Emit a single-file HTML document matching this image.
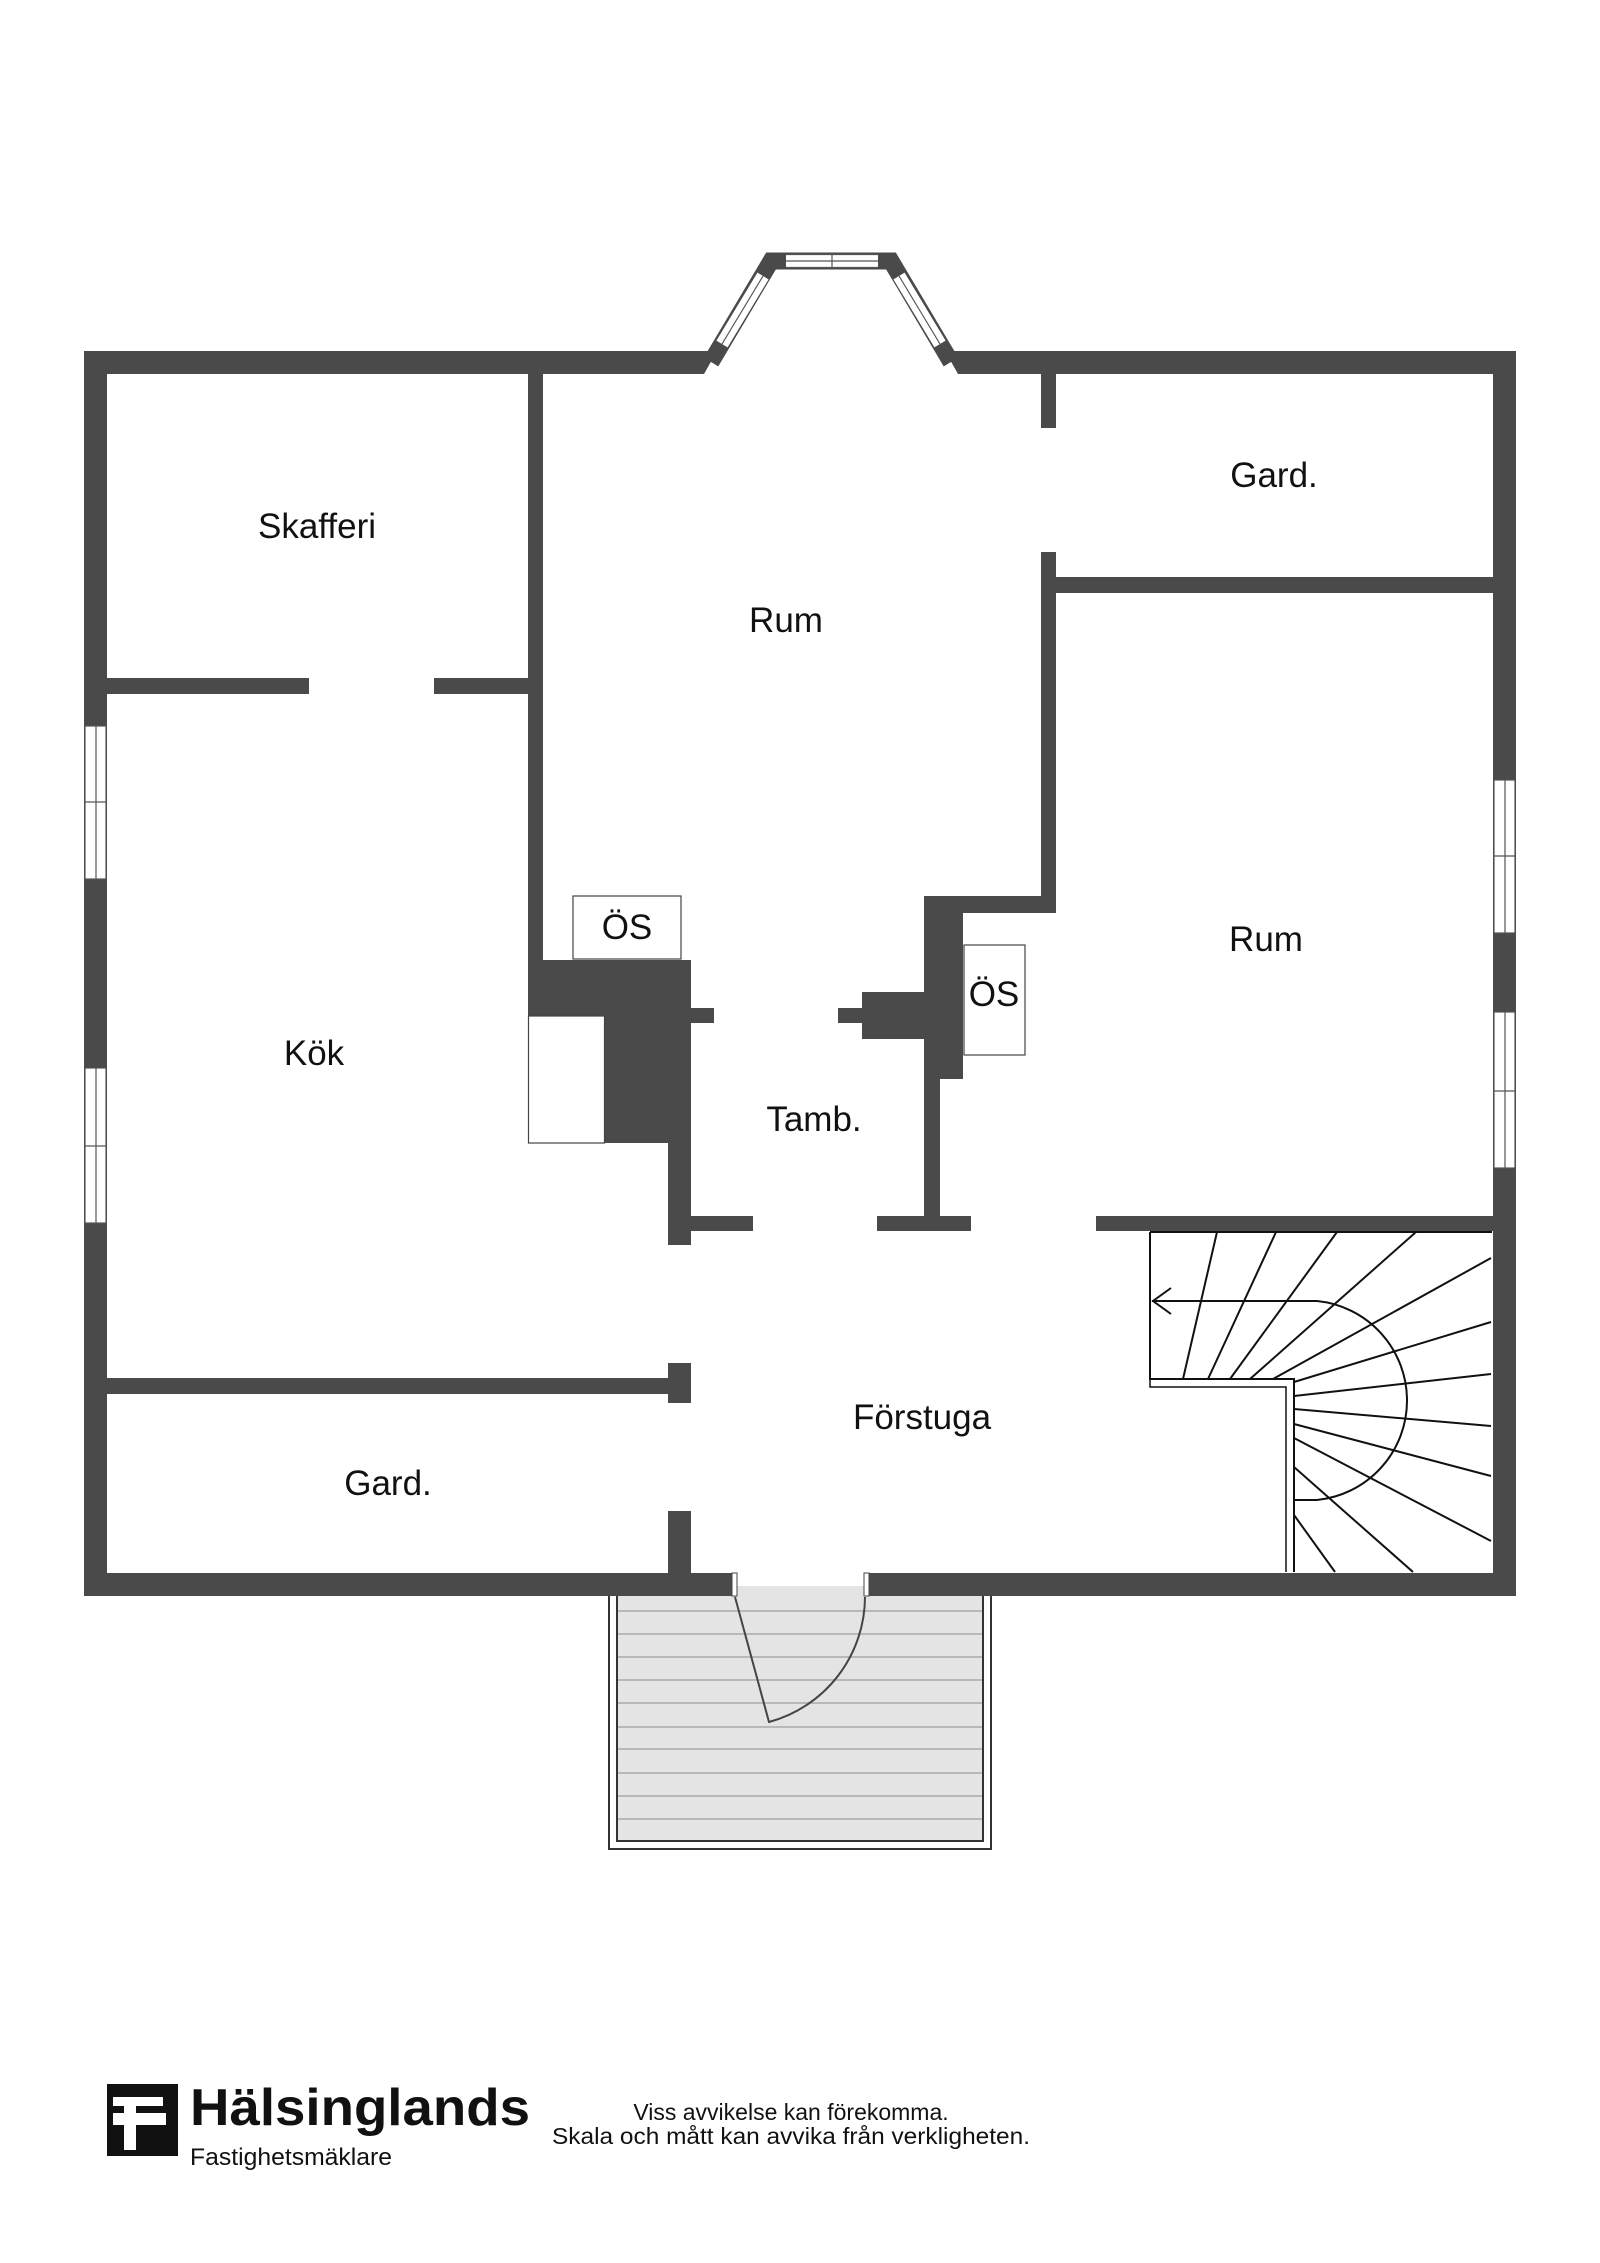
<!DOCTYPE html>
<html><head><meta charset="utf-8"><style>
html,body{margin:0;padding:0;background:#fff}
svg{display:block}
text{font-family:"Liberation Sans",sans-serif;fill:#111}
</style></head><body>
<svg width="1600" height="2263" viewBox="0 0 1600 2263" xmlns="http://www.w3.org/2000/svg">
<rect width="1600" height="2263" fill="#fff"/>
<!-- porch -->
<rect x="609" y="1590" width="382" height="259" fill="#fff" stroke="#333" stroke-width="2"/>
<rect x="617" y="1590" width="366" height="251" fill="#e4e4e4" stroke="#333" stroke-width="2"/>
<rect x="737" y="1586" width="127" height="12" fill="#e4e4e4"/>
<g stroke="#aaa" stroke-width="1.5">
<line x1="618" y1="1611" x2="982" y2="1611"/><line x1="618" y1="1634" x2="982" y2="1634"/>
<line x1="618" y1="1657" x2="982" y2="1657"/><line x1="618" y1="1680" x2="982" y2="1680"/>
<line x1="618" y1="1703" x2="982" y2="1703"/><line x1="618" y1="1727" x2="982" y2="1727"/>
<line x1="618" y1="1749" x2="982" y2="1749"/><line x1="618" y1="1773" x2="982" y2="1773"/>
<line x1="618" y1="1796" x2="982" y2="1796"/><line x1="618" y1="1819" x2="982" y2="1819"/>
</g>
<path d="M735 1597 L769 1722 A130 130 0 0 0 865 1597" fill="none" stroke="#444" stroke-width="2"/>
<g fill="#4a4a4a">
<polygon points="84,351 717,351 704,374 84,374"/>
<polygon points="945,351 1516,351 1516,374 958,374"/>
<rect x="84" y="351" width="23" height="1245"/>
<rect x="1493" y="351" width="23" height="1245"/>
<rect x="84" y="1573" width="648" height="23"/>
<rect x="869" y="1573" width="647" height="23"/>
<rect x="528" y="374" width="15" height="586"/>
<rect x="107" y="678" width="202" height="16"/>
<rect x="434" y="678" width="94" height="16"/>
<rect x="528" y="960" width="163" height="56"/>
<rect x="605" y="1016" width="86" height="127"/>
<rect x="668" y="1143" width="23" height="102"/>
<rect x="691" y="1008" width="23" height="15"/>
<rect x="691" y="1216" width="62" height="15"/>
<rect x="838" y="1008" width="24" height="15"/>
<rect x="862" y="992" width="62" height="47"/>
<rect x="924" y="896" width="39" height="183"/>
<rect x="924" y="1079" width="16" height="152"/>
<rect x="877" y="1216" width="94" height="15"/>
<rect x="924" y="896" width="132" height="17"/>
<rect x="1041" y="552" width="15" height="361"/>
<rect x="1041" y="374" width="15" height="54"/>
<rect x="1056" y="577" width="437" height="16"/>
<rect x="1096" y="1216" width="397" height="15"/>
<rect x="107" y="1378" width="561" height="16"/>
<rect x="668" y="1363" width="23" height="40"/>
<rect x="668" y="1511" width="23" height="62"/>
</g>
<rect x="732" y="1573" width="5" height="23" fill="#fff" stroke="#444" stroke-width="1"/>
<rect x="864" y="1573" width="5" height="23" fill="#fff" stroke="#444" stroke-width="1"/>
<!-- bay -->
<path d="M711 362 L771 261 L891 261 L951 362" fill="none" stroke="#4a4a4a" stroke-width="17" stroke-linejoin="miter"/>
<g stroke="#fff" stroke-width="13">
<line x1="786" y1="261" x2="878" y2="261"/>
<line x1="722" y1="344" x2="763" y2="276"/>
<line x1="899" y1="276" x2="940" y2="344"/>
</g>
<g stroke="#555" stroke-width="1.2" fill="none">
<line x1="786" y1="261" x2="878" y2="261"/><line x1="832" y1="254" x2="832" y2="268"/>
<line x1="786" y1="254.5" x2="878" y2="254.5"/><line x1="786" y1="267.5" x2="878" y2="267.5"/>
<line x1="722" y1="344" x2="763" y2="276"/><line x1="899" y1="276" x2="940" y2="344"/>
</g>
<!-- windows -->
<g fill="#fff" stroke="#555" stroke-width="1.2">
<rect x="85" y="726" width="21" height="153"/><rect x="85" y="1068" width="21" height="155"/>
<rect x="1494" y="780" width="21" height="153"/><rect x="1494" y="1012" width="21" height="156"/>
</g>
<g stroke="#555" stroke-width="1.2">
<line x1="96" y1="726" x2="96" y2="879"/><line x1="85" y1="802" x2="106" y2="802"/>
<line x1="96" y1="1068" x2="96" y2="1223"/><line x1="85" y1="1146" x2="106" y2="1146"/>
<line x1="1505" y1="780" x2="1505" y2="933"/><line x1="1494" y1="856" x2="1515" y2="856"/>
<line x1="1505" y1="1012" x2="1505" y2="1168"/><line x1="1494" y1="1091" x2="1515" y2="1091"/>
</g>
<rect x="573" y="896" width="108" height="63" fill="#fff" stroke="#444" stroke-width="1.2"/>
<rect x="528.5" y="1016" width="76" height="127" fill="#fff" stroke="#444" stroke-width="1.2"/>
<rect x="964" y="945" width="61" height="110" fill="#fff" stroke="#444" stroke-width="1.2"/>
<!-- stairs -->
<g fill="none" stroke="#111" stroke-width="2">
<polyline points="1150,1232 1150,1379 1294,1379 1294,1572"/>
<polyline points="1150,1232 1150,1387 1286,1387 1286,1572" stroke-width="1.5"/>
<line x1="1150" y1="1232" x2="1492" y2="1232"/>
<line x1="1183" y1="1379" x2="1217" y2="1232"/><line x1="1208" y1="1379" x2="1276" y2="1232"/>
<line x1="1230" y1="1379" x2="1337" y2="1232"/><line x1="1250" y1="1379" x2="1416" y2="1232"/>
<line x1="1273" y1="1379" x2="1491" y2="1258"/><line x1="1294" y1="1382" x2="1491" y2="1322"/>
<line x1="1294" y1="1396" x2="1491" y2="1374"/><line x1="1294" y1="1409" x2="1491" y2="1426"/>
<line x1="1294" y1="1424" x2="1491" y2="1476"/><line x1="1294" y1="1438" x2="1491" y2="1541"/>
<line x1="1294" y1="1467" x2="1413" y2="1572"/><line x1="1294" y1="1515" x2="1335" y2="1572"/>
<path d="M1152 1301 L1317 1301 A100 100 0 0 1 1317 1500 L1294 1500"/>
<polyline points="1171,1288 1153,1301 1171,1314"/>
</g>
<!-- labels -->
<g font-size="35" text-anchor="middle">
<text x="317" y="538">Skafferi</text>
<text x="786" y="632">Rum</text>
<text x="1274" y="487">Gard.</text>
<text x="314" y="1065">Kök</text>
<text x="814" y="1131">Tamb.</text>
<text x="1266" y="951">Rum</text>
<text x="922" y="1429">Förstuga</text>
<text x="388" y="1495">Gard.</text>
<text x="627" y="939">ÖS</text>
<text x="994" y="1006">ÖS</text>
</g>
<!-- footer -->
<rect x="107" y="2084" width="71" height="72" fill="#111"/>
<g fill="#fff">
<rect x="113" y="2097" width="50" height="9"/>
<rect x="124" y="2097" width="12" height="53"/>
<rect x="113" y="2113" width="53" height="12"/>
</g>
<rect x="140" y="2106" width="27" height="7" fill="#111"/>
<text x="190" y="2125" font-size="52" font-weight="bold" textLength="340" lengthAdjust="spacingAndGlyphs">Hälsinglands</text>
<text x="190" y="2165" font-size="24" textLength="202" lengthAdjust="spacingAndGlyphs">Fastighetsmäklare</text>
<text x="791" y="2120" font-size="23" text-anchor="middle">Viss avvikelse kan förekomma.</text>
<text x="791" y="2144" font-size="23" text-anchor="middle" textLength="478" lengthAdjust="spacingAndGlyphs">Skala och mått kan avvika från verkligheten.</text>
</svg>
</body></html>
